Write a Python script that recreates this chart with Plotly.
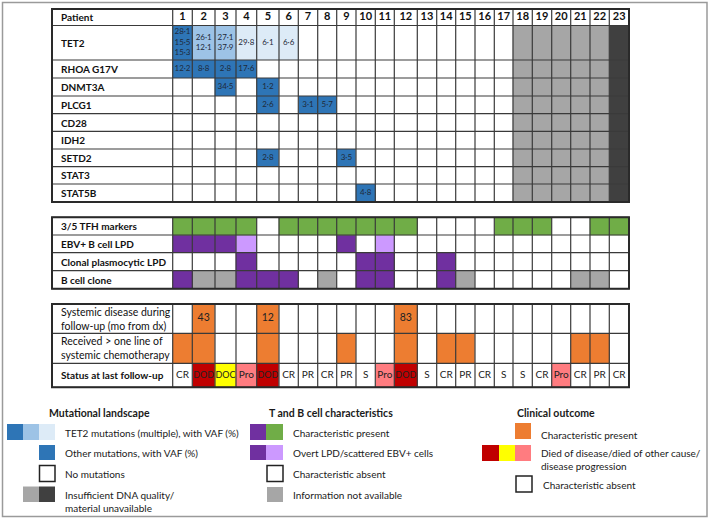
import plotly.graph_objects as go

# ---------------- data ----------------
patients = [str(i) for i in range(1, 24)]
gene_labels = ["TET2", "RHOA G17V", "DNMT3A", "PLCG1", "CD28", "IDH2", "SETD2", "STAT3", "STAT5B"]
tet2_vaf = [[28.1, 15.5, 15.3], [26.1, 12.1], [27.1, 37.9], [29.8], [6.1], [6.6]] + [[] for _ in range(17)]
rhoa_vaf = {1: 12.2, 2: 8.8, 3: 2.8, 4: 17.6}
dnmt3a_vaf = {3: 34.5, 5: 1.2}
plcg1_vaf = {5: 2.6, 7: 3.1, 8: 5.7}
cd28_vaf = {}
idh2_vaf = {}
setd2_vaf = {5: 2.8, 9: 3.5}
stat3_vaf = {}
stat5b_vaf = {10: 4.8}
insufficient_dna = [18, 19, 20, 21, 22]
material_unavailable = [23]

tbc_labels = ["3/5 TFH markers", "EBV+ B cell LPD", "Clonal plasmocytic LPD", "B cell clone"]
tfh_markers = [1, 1, 1, 1, 0, 1, 1, 1, 1, 1, 1, 1, 0, 0, 0, 0, 1, 1, 1, 0, 0, 1, 1]
ebv_lpd = [2, 2, 2, 1, 0, 0, 0, 0, 2, 0, 1, 0, 0, 0, 0, 0, 0, 0, 0, 0, 0, 0, 0]  # 2 overt, 1 scattered
clonal_plasmocytic = [0, 0, 0, 1, 0, 0, 0, 0, 0, 1, 1, 0, 0, 1, 0, 0, 0, 0, 0, 0, 0, 0, 0]
b_cell_clone = [1, None, None, 1, 1, 1, 0, None, 0, 1, 1, 0, 0, 1, None, 0, 0, 0, 0, 0, None, None, 0]

clin_labels = ["Systemic disease during<br>follow-up (mo from dx)",
               "Received > one line of<br>systemic chemotherapy",
               "Status at last follow-up"]
systemic_months = [None, 43, None, None, 12, None, None, None, None, None, None, 83,
                   None, None, None, None, None, None, None, None, None, None, None]
chemo_multi_line = [1, 1, 0, 0, 1, 0, 0, 0, 1, 0, 0, 1, 0, 1, 1, 0, 0, 0, 0, 0, 1, 1, 0]
status_last = ["CR", "DOD", "DOC", "Pro", "DOD", "CR", "PR", "CR", "PR", "S", "Pro", "DOD",
               "S", "CR", "PR", "CR", "S", "S", "CR", "Pro", "CR", "PR", "CR"]

# ---------------- styles / layout geometry ----------------
palette = ["#FFFFFF", "#2E75B6", "#9DC3E6", "#DDEBF7", "#A6A6A6", "#404040",
           "#70AD47", "#7030A0", "#CC99FF", "#ED7D31", "#C00000", "#FFFF00", "#FF7C80"]
WHITE, BLUE_D, BLUE_M, BLUE_L, GREY_L, GREY_D, GREEN, PURPLE, LAV, ORANGE, RED_D, YELLOW, PINK = range(13)
cs = []
n = len(palette)
for i, c in enumerate(palette):
    cs.append([i / n, c])
    cs.append([(i + 1) / n, c])

FONT = "Lato"
LINE = "#3A3A3A"
col_edges = [172.7, 192.3, 215, 236, 256.7, 279, 298.3, 317.7, 336.7, 356, 375.3, 394.3,
             417.3, 436.7, 455.7, 475, 494.3, 513, 532.3, 551.7, 570.7, 590, 609.3, 629]
label_x0 = 52
t1_rows = [9, 25.5, 60, 78, 96, 113.7, 131.3, 149, 166.7, 184, 202]
t2_rows = [217.3, 235, 252.7, 270.7, 288.7]
t3_rows = [304, 333.3, 363.3, 387.3]

ncol = len(patients)
cx = [(col_edges[i] + col_edges[i + 1]) / 2 for i in range(ncol)]

fig = go.Figure()
shapes = []
annotations = []

def fmt(v):
    return f"{v:.1f}".replace(".", "·")

# ---- table 1 codes ----
gene_maps = [None, rhoa_vaf, dnmt3a_vaf, plcg1_vaf, cd28_vaf, idh2_vaf, setd2_vaf, stat3_vaf, stat5b_vaf]
z1 = [[WHITE] * ncol]
txt1 = []
for gi, gname in enumerate(gene_labels):
    row = []
    yc = (t1_rows[gi + 1] + t1_rows[gi + 2]) / 2
    for p in range(1, ncol + 1):
        if p in insufficient_dna:
            row.append(GREY_L)
            continue
        if p in material_unavailable:
            row.append(GREY_D)
            continue
        if gi == 0:
            vals = tet2_vaf[p - 1]
            code = {0: WHITE, 1: BLUE_L, 2: BLUE_M, 3: BLUE_D}[len(vals)]
            row.append(code)
            if vals:
                txt1.append((cx[p - 1], yc, "<br>".join(fmt(v) for v in vals)))
        else:
            v = gene_maps[gi].get(p)
            row.append(BLUE_D if v is not None else WHITE)
            if v is not None:
                txt1.append((cx[p - 1], yc, fmt(v)))
    z1.append(row)

# ---- table 2 codes ----
z2 = [
    [GREEN if v else WHITE for v in tfh_markers],
    [{2: PURPLE, 1: LAV, 0: WHITE}[v] for v in ebv_lpd],
    [PURPLE if v else WHITE for v in clonal_plasmocytic],
    [GREY_L if v is None else (PURPLE if v else WHITE) for v in b_cell_clone],
]

# ---- table 3 codes ----
status_col = {"DOD": RED_D, "DOC": YELLOW, "Pro": PINK}
z3 = [
    [ORANGE if v is not None else WHITE for v in systemic_months],
    [ORANGE if v else WHITE for v in chemo_multi_line],
    [status_col.get(s, WHITE) for s in status_last],
]

for z, rows in [(z1, t1_rows), (z2, t2_rows), (z3, t3_rows)]:
    fig.add_trace(go.Heatmap(x=col_edges, y=rows, z=z, colorscale=cs, zmin=-0.5, zmax=n - 0.5,
                             showscale=False, hoverinfo="skip", zsmooth=False))

# cell texts
fig.add_trace(go.Scatter(x=[t[0] for t in txt1], y=[t[1] for t in txt1], text=[t[2] for t in txt1],
                         mode="text", textfont=dict(family=FONT, size=8, color="#1F2A3A"),
                         hoverinfo="skip", showlegend=False))
yc_hdr = (t1_rows[0] + t1_rows[1]) / 2
fig.add_trace(go.Scatter(x=cx, y=[yc_hdr] * ncol, text=patients, mode="text",
                         textfont=dict(family=FONT, size=11, color="#111111", weight="bold"),
                         hoverinfo="skip", showlegend=False))
sx = [cx[i] for i, v in enumerate(systemic_months) if v is not None]
st = [str(v) for v in systemic_months if v is not None]
fig.add_trace(go.Scatter(x=sx, y=[(t3_rows[0] + t3_rows[1]) / 2] * len(sx), text=st, mode="text",
                         textfont=dict(family=FONT, size=10.5, color="#222222"),
                         hoverinfo="skip", showlegend=False))
y_status = (t3_rows[2] + t3_rows[3]) / 2
fig.add_trace(go.Scatter(x=cx, y=[y_status] * ncol, text=status_last, mode="text",
                         textfont=dict(family=FONT, size=[9 if s in ("DOD", "DOC") else 10 for s in status_last],
                                       color="#222222"),
                         hoverinfo="skip", showlegend=False))

# grid lines
def grid(rows):
    y0, y1 = rows[0], rows[-1]
    for x in [label_x0] + col_edges:
        shapes.append(dict(type="line", xref="x", yref="y", x0=x, x1=x, y0=y0, y1=y1,
                           line=dict(color=LINE, width=1.2)))
    for y in rows:
        shapes.append(dict(type="line", xref="x", yref="y", x0=label_x0, x1=col_edges[-1], y0=y, y1=y,
                           line=dict(color=LINE, width=1.2)))
    shapes.append(dict(type="rect", xref="x", yref="y", x0=label_x0, x1=col_edges[-1], y0=y0, y1=y1,
                       line=dict(color="#2A2A2A", width=2)))

grid(t1_rows)
grid(t2_rows)
grid(t3_rows)

def label(text, y, bold=True, size=10):
    annotations.append(dict(x=label_x0 + 7, y=y, xref="x", yref="y", text=text, showarrow=False,
                            xanchor="left", yanchor="middle", align="left",
                            font=dict(family=FONT, size=size, color="#111111",
                                      weight="bold" if bold else "normal")))

label("Patient", yc_hdr)
for gi, g in enumerate(gene_labels):
    label(g, (t1_rows[gi + 1] + t1_rows[gi + 2]) / 2)
for i, g in enumerate(tbc_labels):
    label(g, (t2_rows[i] + t2_rows[i + 1]) / 2)
for i, g in enumerate(clin_labels):
    label(g, (t3_rows[i] + t3_rows[i + 1]) / 2, bold=(i == 2), size=10.5 if i < 2 else 10)

# ---------------- legend ----------------
def box(x0, x1, y0, y1, color, border=False):
    shapes.append(dict(type="rect", xref="x", yref="y", x0=x0, x1=x1, y0=y0, y1=y1,
                       fillcolor=color, line=dict(color="#222222" if border else color,
                                                  width=1.5 if border else 0)))

def ltext(x, y, text, bold=False, size=10):
    annotations.append(dict(x=x, y=y, xref="x", yref="y", text=text, showarrow=False,
                            xanchor="left", yanchor="middle", align="left",
                            font=dict(family=FONT, size=size, color="#1A1A1A",
                                      weight="bold" if bold else "normal")))

ltext(47, 413, "Mutational landscape", bold=True, size=10.5)
box(7, 23, 424, 440, palette[BLUE_D]); box(23, 39, 424, 440, palette[BLUE_M]); box(39, 55, 424, 440, palette[BLUE_L])
ltext(63, 432.5, "TET2 mutations (multiple), with VAF (%)")
box(39, 55, 445, 460, palette[BLUE_D])
ltext(63, 453, "Other mutations, with VAF (%)")
box(39.5, 55, 465.5, 481.5, "#FFFFFF", border=True)
ltext(63, 474, "No mutations")
box(23, 39, 486.5, 502, palette[GREY_L]); box(39, 55, 486.5, 502, palette[GREY_D])
ltext(63, 501.5, "Insufficient DNA quality/<br>material unavailable")

ltext(267, 413, "T and B cell characteristics", bold=True, size=10.5)
box(250, 266, 424, 440, palette[PURPLE]); box(266, 283, 424, 440, palette[GREEN])
ltext(291, 432.5, "Characteristic present")
box(250, 266, 445, 460, palette[PURPLE]); box(266, 283, 445, 460, palette[LAV])
ltext(291, 453, "Overt LPD/scattered EBV+ cells")
box(267, 283, 465.5, 481.5, "#FFFFFF", border=True)
ltext(291, 474, "Characteristic absent")
box(267, 283, 487, 502, palette[GREY_L])
ltext(291, 494.5, "Information not available")

ltext(515, 413, "Clinical outcome", bold=True, size=10.5)
box(515, 531, 423, 439, palette[ORANGE])
ltext(539, 435, "Characteristic present")
box(482, 499, 445, 461, palette[RED_D]); box(499, 515, 445, 461, palette[YELLOW]); box(515, 531, 445, 461, palette[PINK])
ltext(539, 459.5, "Died of disease/died of other cause/<br>disease progression")
box(516, 532, 476, 492, "#FFFFFF", border=True)
ltext(541, 485, "Characteristic absent")

# outer frame
shapes.append(dict(type="rect", xref="x", yref="y", x0=2.5, x1=707, y0=2.5, y1=516.5,
                   line=dict(color="#9A9A9A", width=1.5)))

fig.update_layout(
    width=709, height=519, margin=dict(l=0, r=0, t=0, b=0),
    paper_bgcolor="white", plot_bgcolor="white", showlegend=False,
    xaxis=dict(range=[0, 709], visible=False, fixedrange=True),
    yaxis=dict(range=[519, 0], visible=False, fixedrange=True),
    shapes=shapes, annotations=annotations,
)
fig.write_html("out.html", config={"displayModeBar": False},
               post_script="document.body.style.margin='0px';document.body.style.overflow='hidden';")
